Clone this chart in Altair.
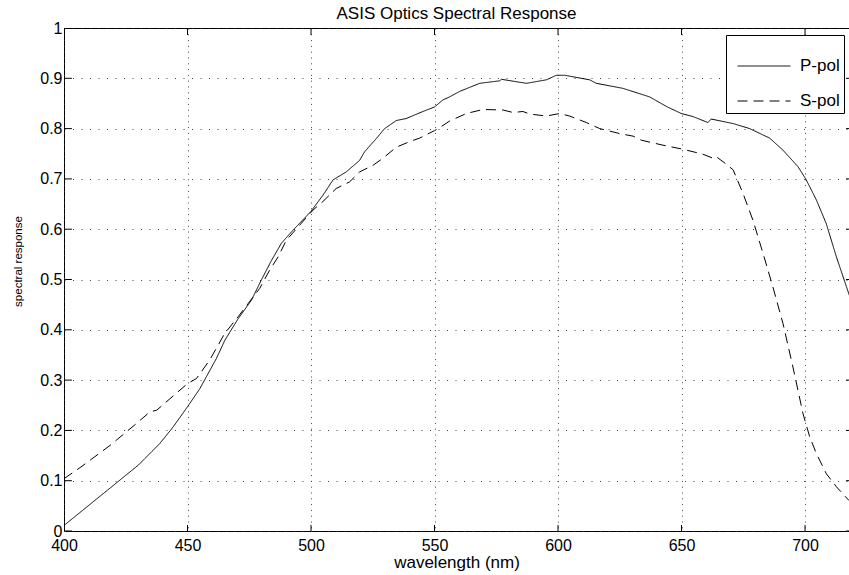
import altair as alt
import pandas as pd

FONT = "Liberation Sans"

# ---- data ----
p_wl = [400, 430.1, 438.8, 444.2, 450, 455, 461.7, 465.1, 470.5, 475.9, 479.9, 484, 488, 492.7,
        499.9, 504.9, 508.9, 514.3, 519.7, 521.7, 526.4, 529.8, 534.5, 538.5, 545.3, 550, 553.4,
        556.1, 560.2, 568.3, 576.4, 577.1, 587.2, 595.3, 599.3, 602.7, 612.8, 615.5, 626.3, 637.1,
        643.9, 649.9, 654.6, 660.7, 662, 670.9, 677.6, 685.7, 691.1, 697.2, 700.5, 704.6, 708.6,
        712.7, 717.7, 720]
p_val = [0.011, 0.131, 0.174, 0.207, 0.247, 0.283, 0.343, 0.379, 0.422, 0.459, 0.499, 0.538, 0.572,
         0.598, 0.635, 0.668, 0.698, 0.714, 0.737, 0.754, 0.780, 0.800, 0.816, 0.820, 0.834, 0.843,
         0.857, 0.863, 0.874, 0.890, 0.895, 0.898, 0.890, 0.897, 0.906, 0.906, 0.897, 0.890, 0.880,
         0.863, 0.844, 0.830, 0.824, 0.812, 0.819, 0.810, 0.800, 0.781, 0.757, 0.724, 0.698, 0.658,
         0.611, 0.545, 0.472, 0.44]

s_wl = [400, 406.5, 418.6, 429.4, 434.8, 437.5, 442.9, 450, 453.6, 459, 465.1, 470.5, 474.5, 479.2,
        483.3, 486.7, 490, 495.4, 500.8, 504.8, 510.2, 515.6, 519.7, 525.1, 529.1, 534.5, 539.9,
        543.9, 550, 552.7, 556.1, 562.9, 569.6, 577.7, 581.8, 585.8, 588.5, 595.3, 600.7, 604.7,
        611.5, 616.9, 625, 630.4, 633.7, 642.5, 650.6, 658.7, 662.8, 664.1, 668.2, 670.9, 674.9,
        678.9, 683, 687, 691.1, 695.1, 699.2, 701.9, 704.6, 708.6, 712.7, 717.7, 720]
s_val = [0.104, 0.126, 0.170, 0.214, 0.237, 0.240, 0.263, 0.293, 0.303, 0.340, 0.393, 0.426, 0.452,
         0.482, 0.519, 0.545, 0.578, 0.608, 0.638, 0.655, 0.681, 0.694, 0.714, 0.727, 0.741, 0.763,
         0.774, 0.781, 0.796, 0.804, 0.815, 0.830, 0.838, 0.837, 0.832, 0.834, 0.829, 0.825, 0.830,
         0.825, 0.812, 0.800, 0.790, 0.785, 0.777, 0.767, 0.759, 0.749, 0.741, 0.744, 0.729, 0.718,
         0.671, 0.618, 0.552, 0.485, 0.412, 0.326, 0.233, 0.187, 0.154, 0.114, 0.088, 0.061, 0.052]

series_names = ["P-pol", "S-pol"]
x_ticks = [400, 450, 500, 550, 600, 650, 700]
y_ticks = [0, 0.1, 0.2, 0.3, 0.4, 0.5, 0.6, 0.7, 0.8, 0.9, 1]

# ---- tables ----
lines = pd.DataFrame(
    {"wavelength": p_wl + s_wl,
     "response": p_val + s_val,
     "series": [series_names[0]] * len(p_wl) + [series_names[1]] * len(s_wl)}
)

X_MIN, X_MAX = 400, 717.8   # visible part of the axis (the figure is cut at the right)
x_scale = alt.Scale(domain=[X_MIN, X_MAX], nice=False, zero=False)
y_scale = alt.Scale(domain=[0, 1], nice=False, zero=False)

x_axis = alt.Axis(values=x_ticks, title="wavelength (nm)", ticks=False, domain=False,
                  grid=True, gridDash=[1, 4.8], gridColor="#333", gridOpacity=0.9,
                  labelFontSize=16, labelPadding=6, labelColor="black",
                  titleFontSize=17, titleFontWeight="normal", titlePadding=1,
                  titleColor="black", labelFlush=False)
y_axis = alt.Axis(values=y_ticks, format=".1~f", title="spectral response", ticks=False,
                  domain=False, grid=True, gridDash=[1, 7.5], gridColor="#333",
                  gridOpacity=0.9, labelFontSize=16, labelPadding=2, labelColor="black",
                  titleFontSize=11.5, titleFontWeight="normal", titleColor="black",
                  titleX=-46, titleY=233, titleAngle=270, titleAlign="center",
                  titleBaseline="middle", labelFlush=False)

xt = pd.DataFrame({"x": x_ticks})
bottom_ticks = xt.assign(y=0.0, y2=0.012)
top_ticks = xt.assign(y=1.0, y2=0.986)
yt = pd.DataFrame({"y": y_ticks})
left_ticks = yt.assign(x=X_MIN, x2=X_MIN + 3.2)
right_ticks = yt.assign(x=716.6, x2=X_MAX)

line_layer = alt.Chart(lines).mark_line(color="black", strokeWidth=1, clip=True).encode(
    x=alt.X("wavelength:Q", scale=x_scale, axis=x_axis),
    y=alt.Y("response:Q", scale=y_scale, axis=y_axis),
    strokeDash=alt.StrokeDash(
        "series:N",
        scale=alt.Scale(domain=series_names, range=[[1, 0], [10, 6]]),
        legend=alt.Legend(title=None, orient="none", legendX=662, legendY=7,
                          symbolType="stroke", symbolSize=2809, symbolStrokeWidth=1,
                          symbolStrokeColor="black", labelFontSize=17, labelFont=FONT,
                          labelColor="black", labelOffset=9, strokeColor="black",
                          fillColor="white", padding=4, rowPadding=0, symbolOffset=7,
                          cornerRadius=0),
    ),
)


def rule_layer(df, xf, yf, x2f=None, y2f=None):
    enc = {"x": alt.X(f"{xf}:Q", scale=x_scale, axis=x_axis),
           "y": alt.Y(f"{yf}:Q", scale=y_scale, axis=y_axis)}
    if x2f:
        enc["x2"] = alt.X2(f"{x2f}:Q")
    if y2f:
        enc["y2"] = alt.Y2(f"{y2f}:Q")
    return alt.Chart(df).mark_rule(color="black", strokeWidth=1, clip=True).encode(**enc)


chart = alt.layer(
    line_layer,
    rule_layer(bottom_ticks, "x", "y", y2f="y2"),
    rule_layer(top_ticks, "x", "y", y2f="y2"),
    rule_layer(left_ticks, "x", "y", x2f="x2"),
    rule_layer(right_ticks, "x", "y", x2f="x2"),
).properties(
    width=785,
    height=503,
    title=alt.TitleParams("ASIS Optics Spectral Response", fontSize=17, font=FONT,
                          fontWeight="normal", anchor="middle", offset=8, frame="group",
                          baseline="alphabetic", color="black", dy=24),
    autosize=alt.AutoSizeParams(type="none"),
    padding={"left": 64, "top": 28, "right": 0, "bottom": 44},
    background="white",
).configure(font=FONT).configure_view(stroke="black", strokeWidth=1).configure_axis(
    labelFont=FONT, titleFont=FONT
)

chart.save("out.html", embed_options={"renderer": "svg", "actions": False})
